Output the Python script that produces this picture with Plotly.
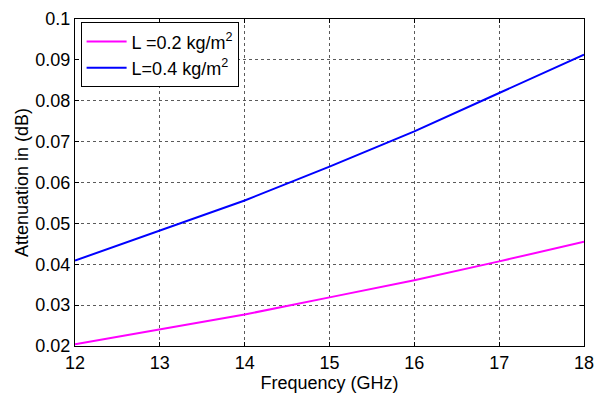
import plotly.graph_objects as go

freq = [12, 13, 14, 15, 16, 17, 18]
att_02 = [0.0204, 0.0240, 0.0277, 0.0319, 0.0361, 0.0407, 0.0455]
att_04 = [0.0409, 0.0483, 0.0556, 0.0639, 0.0725, 0.0819, 0.0913]
names = ["L =0.2 kg/m<sup>2</sup>", "L=0.4 kg/m<sup>2</sup>"]
y_ticks = [0.02, 0.03, 0.04, 0.05, 0.06, 0.07, 0.08, 0.09, 0.1]
y_ticktext = ["0.02", "0.03", "0.04", "0.05", "0.06", "0.07", "0.08", "0.09", "0.1"]
x_ticks = [12, 13, 14, 15, 16, 17, 18]

FONT = "Liberation Sans, Arial, sans-serif"
FS = 18

fig = go.Figure()
fig.add_trace(go.Scatter(x=freq, y=att_02, mode="lines", name=names[0],
                         line=dict(color="#FF00FF", width=2)))
fig.add_trace(go.Scatter(x=freq, y=att_04, mode="lines", name=names[1],
                         line=dict(color="#0000FF", width=2)))

axis_common = dict(
    showline=True, linecolor="black", linewidth=1, mirror="allticks",
    ticks="inside", ticklen=4, tickcolor="black",
    showgrid=True, gridcolor="#5a5a5a", griddash="dot", gridwidth=1,
    zeroline=False, ticklabeloverflow="allow",
    tickfont=dict(family=FONT, size=FS, color="black"),
)

fig.update_xaxes(range=[12, 18], tickvals=x_ticks,
                 title=dict(text="Frequency (GHz)", font=dict(family=FONT, size=FS, color="black"), standoff=2),
                 **axis_common)
fig.update_yaxes(range=[0.02, 0.1], tickvals=y_ticks, ticktext=y_ticktext,
                 title=dict(text="Attenuation in (dB)", font=dict(family=FONT, size=FS, color="black"), standoff=2),
                 **axis_common)

fig.update_layout(
    width=603, height=396,
    margin=dict(l=75, r=9, t=14, b=50),
    paper_bgcolor="white", plot_bgcolor="white",
    font=dict(family=FONT, size=FS, color="black"),
    legend=dict(x=0.011, y=0.99, xanchor="left", yanchor="top",
                bgcolor="white", bordercolor="black", borderwidth=1,
                font=dict(family=FONT, size=FS, color="black"),
                itemwidth=40, tracegroupgap=0),
    showlegend=True,
)

fig.write_html("out.html")
